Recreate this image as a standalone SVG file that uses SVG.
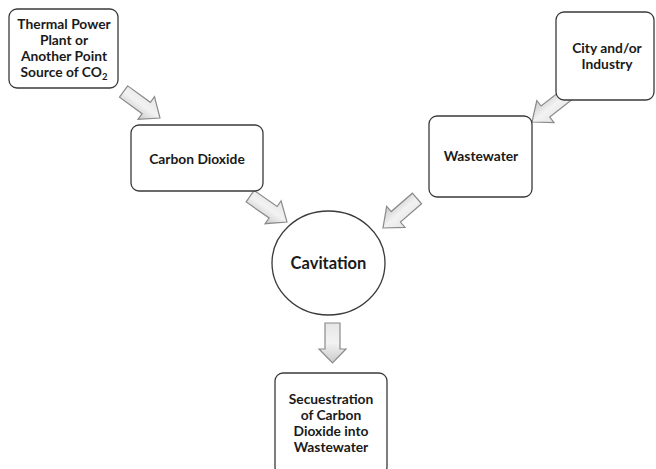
<svg xmlns="http://www.w3.org/2000/svg" width="656" height="469" viewBox="0 0 656 469">
<style>
.box{fill:#fff;stroke:#3a3a3a;stroke-width:1.3}
.t{font-family:Lato,"Open Sans","Liberation Sans",sans-serif;font-weight:700;font-size:13.8px;fill:#1a1a1a;text-anchor:middle}
.big{font-size:16.5px}
.arr{fill:url(#g);stroke:#8a8a8a;stroke-width:1.2;stroke-linejoin:miter}
</style>
<defs>
<linearGradient id="g" x1="0" y1="0" x2="0" y2="1">
<stop offset="0" stop-color="#e6e6e6"/>
<stop offset="0.5" stop-color="#f2f2f2"/>
<stop offset="1" stop-color="#c9c9c9"/>
</linearGradient>
<path id="ar" d="M-45,-7 L-17,-7 L-17,-14 L0,0 L-17,14 L-17,7 L-45,7 Z"/>
</defs>
<rect width="656" height="469" fill="#fff"/>
<g id="connectors">
<use href="#ar" class="arr" transform="translate(160,118) rotate(36)"/>
<use href="#ar" class="arr" transform="translate(287,222) rotate(35)"/>
<use href="#ar" class="arr" transform="translate(532,122) rotate(142)"/>
<use href="#ar" class="arr" transform="translate(383,228) rotate(139)"/>
<path class="arr" d="M325,323 L340,323 L340,349 L346,349 L332.5,363 L319,349 L325,349 Z"/>
</g>
<g id="thermal">
<rect class="box" x="9" y="9" width="109" height="79" rx="8"/>
<text class="t" x="64" y="28.5">Thermal Power</text>
<text class="t" x="64" y="44.5">Plant or</text>
<text class="t" x="64" y="60.5">Another Point</text>
<text class="t" x="64" y="76.5">Source of CO<tspan font-size="9.5" dy="3">2</tspan></text>
</g>
<g id="carbon">
<rect class="box" x="131" y="125" width="132" height="66" rx="8"/>
<text class="t" x="197" y="163.5">Carbon Dioxide</text>
</g>
<g id="city">
<rect class="box" x="556" y="12" width="98" height="88" rx="8"/>
<text class="t" x="607" y="53">City and/or</text>
<text class="t" x="607" y="69">Industry</text>
</g>
<g id="wastewater">
<rect class="box" x="429" y="116" width="103" height="81" rx="8"/>
<text class="t" x="481" y="161">Wastewater</text>
</g>
<g id="cavitation">
<ellipse class="box" cx="328.5" cy="263" rx="56.5" ry="52"/>
<text class="t big" x="328.5" y="269">Cavitation</text>
</g>
<g id="sequestration">
<rect class="box" x="275" y="373" width="112" height="102" rx="8"/>
<text class="t" x="331" y="404">Secuestration</text>
<text class="t" x="331" y="420">of Carbon</text>
<text class="t" x="331" y="436">Dioxide into</text>
<text class="t" x="331" y="452">Wastewater</text>
</g>
</svg>
